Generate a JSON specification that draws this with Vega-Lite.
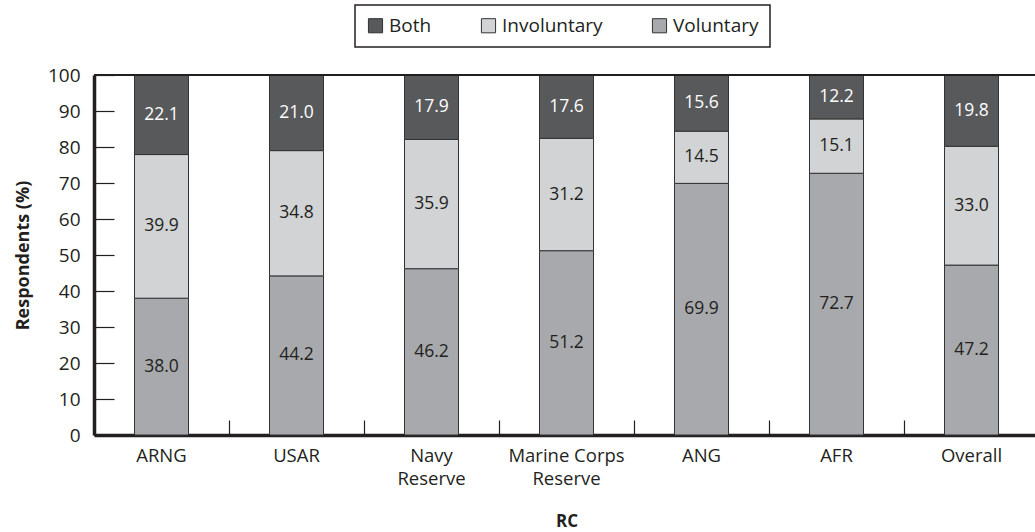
{
  "$schema": "https://vega.github.io/schema/vega-lite/v6.json",
  "width": 945,
  "height": 360,
  "autosize": "none",
  "padding": {"left": 94, "top": 75, "right": 0, "bottom": 97},
  "config": {
    "font": "Open Sans",
    "view": {"stroke": null},
    "axis": {"labelFont": "Open Sans", "titleFont": "Open Sans"},
    "axisY": {
      "titleFontSize": 18,
      "titleFontWeight": "bold",
      "titleColor": "#231f20",
      "titlePadding": 15,
      "tickCount": 10,
      "labelFontSize": 19,
      "labelColor": "#231f20",
      "labelPadding": 14,
      "labelOverlap": false,
      "ticks": false,
      "grid": true,
      "gridColor": "#231f20",
      "gridWidth": 1.2,
      "gridOpacity": 1,
      "gridDash": [20, 3000],
      "domainColor": "#231f20",
      "domainWidth": 3.5
    }
  },
  "data": {
    "values": [
      {"rc": "ARNG", "type": "Voluntary", "value": 38.0},
      {"rc": "ARNG", "type": "Involuntary", "value": 39.9},
      {"rc": "ARNG", "type": "Both", "value": 22.1},
      {"rc": "USAR", "type": "Voluntary", "value": 44.2},
      {"rc": "USAR", "type": "Involuntary", "value": 34.8},
      {"rc": "USAR", "type": "Both", "value": 21.0},
      {"rc": "Navy Reserve", "type": "Voluntary", "value": 46.2},
      {"rc": "Navy Reserve", "type": "Involuntary", "value": 35.9},
      {"rc": "Navy Reserve", "type": "Both", "value": 17.9},
      {"rc": "Marine Corps Reserve", "type": "Voluntary", "value": 51.2},
      {"rc": "Marine Corps Reserve", "type": "Involuntary", "value": 31.2},
      {"rc": "Marine Corps Reserve", "type": "Both", "value": 17.6},
      {"rc": "ANG", "type": "Voluntary", "value": 69.9},
      {"rc": "ANG", "type": "Involuntary", "value": 14.5},
      {"rc": "ANG", "type": "Both", "value": 15.6},
      {"rc": "AFR", "type": "Voluntary", "value": 72.7},
      {"rc": "AFR", "type": "Involuntary", "value": 15.1},
      {"rc": "AFR", "type": "Both", "value": 12.2},
      {"rc": "Overall", "type": "Voluntary", "value": 47.2},
      {"rc": "Overall", "type": "Involuntary", "value": 33.0},
      {"rc": "Overall", "type": "Both", "value": 19.8}
    ]
  },
  "transform": [
    {"stack": "value", "groupby": ["rc"], "sort": [{"field": "type", "order": "descending"}], "as": ["y0", "y1"]},
    {"calculate": "(datum.y0 + datum.y1) / 2", "as": "ymid"}
  ],
  "encoding": {
    "x": {
      "field": "rc",
      "type": "nominal",
      "sort": null,
      "scale": {"paddingInner": 0.6, "paddingOuter": 0.3},
      "axis": {
        "title": "RC",
        "titleFontSize": 17,
        "titleFontWeight": "bold",
        "titleColor": "#231f20",
        "titlePadding": 26,
        "labelAngle": 0,
        "labelFontSize": 18.5,
        "labelColor": "#231f20",
        "labelLineHeight": 23,
        "labelPadding": 11,
        "labelExpr": "datum.value == 'Navy Reserve' ? ['Navy', 'Reserve'] : datum.value == 'Marine Corps Reserve' ? ['Marine Corps', 'Reserve'] : datum.value",
        "ticks": false,
        "bandPosition": -0.75,
        "grid": true,
        "gridColor": "#231f20",
        "gridWidth": 1.2,
        "gridOpacity": 1,
        "gridDash": [0, 345, 15, 1000],
        "domainColor": "#231f20",
        "domainWidth": 3.5
      }
    }
  },
  "layer": [
    {
      "mark": {"type": "bar", "stroke": "#333333", "strokeWidth": 1},
      "encoding": {
        "y": {
          "field": "y0",
          "type": "quantitative",
          "scale": {"domain": [0, 100], "nice": false},
          "axis": {"title": "Respondents (%)"}
        },
        "y2": {"field": "y1"},
        "color": {
          "field": "type",
          "type": "nominal",
          "scale": {"domain": ["Both", "Involuntary", "Voluntary"], "range": ["#58595b", "#d1d3d4", "#a7a9ac"]},
          "legend": {
            "title": null,
            "orient": "none",
            "direction": "horizontal",
            "legendX": 261,
            "legendY": -70,
            "strokeColor": "#231f20",
            "padding": 11,
            "labelFontSize": 19,
            "labelColor": "#231f20",
            "labelFont": "Open Sans",
            "symbolType": "square",
            "symbolSize": 200,
            "symbolStrokeColor": "#333333",
            "symbolStrokeWidth": 1,
            "symbolOpacity": 1,
            "columnPadding": 47,
            "labelOffset": 4,
            "encode": {"legend": {"update": {"strokeWidth": {"value": 1.5}}}}
          }
        }
      }
    },
    {
      "mark": {"type": "text", "fontSize": 17.5, "font": "Open Sans"},
      "encoding": {
        "y": {"field": "ymid", "type": "quantitative", "axis": {"title": "Respondents (%)"}},
        "text": {"field": "value", "type": "quantitative", "format": ".1f"},
        "color": {
          "condition": {"test": "datum.type == 'Both'", "value": "#ffffff"},
          "value": "#231f20"
        }
      }
    },
    {
      "mark": {"type": "rule", "color": "#231f20", "strokeWidth": 1.5},
      "encoding": {"y": {"datum": 100, "type": "quantitative", "axis": {"title": "Respondents (%)"}}, "x": {"value": 0}, "x2": {"value": 945}}
    }
  ]
}
